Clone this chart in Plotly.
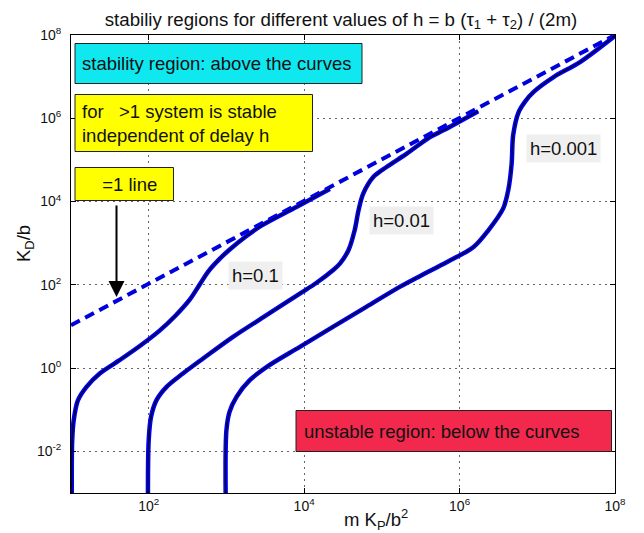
import numpy as np
import plotly.graph_objects as go

# ---- data (log10 values) ----
h01_log_x = [1.01, 1.015, 1.035, 1.09, 1.2, 1.37, 1.625, 1.885, 2.14, 2.35, 2.53, 2.66, 2.77, 2.9, 3.05, 3.25, 3.45, 3.9, 4.33]
h01_log_y = [-3.0, -1.75, -1.25, -0.77, -0.45, -0.13, 0.19, 0.53, 0.9, 1.27, 1.65, 2.02, 2.33, 2.6, 2.86, 3.16, 3.42, 3.87, 4.3]

h001_log_x = [1.99, 2.0, 2.03, 2.1, 2.23, 2.44, 2.7, 3.085, 3.515, 3.945, 4.16, 4.37, 4.46, 4.57, 4.65, 4.7, 4.76, 4.89, 5.06, 5.32, 5.62, 5.79, 6.24]
h001_log_y = [-3.0, -1.73, -1.17, -0.77, -0.45, -0.13, 0.23, 0.75, 1.27, 1.79, 2.05, 2.35, 2.51, 2.83, 3.31, 3.79, 4.19, 4.59, 4.83, 5.15, 5.55, 5.71, 6.17]

h0001_log_x = [2.99, 3.0, 3.04, 3.13, 3.3, 3.52, 3.945, 4.37, 4.8, 5.23, 5.5, 5.84, 6.18, 6.37, 6.56, 6.63, 6.67, 6.69, 6.76, 6.85, 6.95, 7.21, 7.55, 8.0]
h0001_log_y = [-3.0, -1.49, -1.05, -0.69, -0.29, 0.03, 0.51, 0.99, 1.47, 1.95, 2.22, 2.55, 2.91, 3.31, 3.83, 4.31, 4.91, 5.6, 6.15, 6.42, 6.63, 6.99, 7.35, 7.98]

kappa_log_x = [1.0, 8.0]
kappa_log_y = [1.03, 8.0]

x_tickvals = [1e2, 1e4, 1e6, 1e8]
x_ticktext = ["10<sup>2</sup>", "10<sup>4</sup>", "10<sup>6</sup>", "10<sup>8</sup>"]
y_tickvals = [1e-2, 1e0, 1e2, 1e4, 1e6, 1e8]
y_ticktext = ["10<sup>-2</sup>", "10<sup>0</sup>", "10<sup>2</sup>", "10<sup>4</sup>", "10<sup>6</sup>", "10<sup>8</sup>"]

curve_labels = ["h=0.1", "h=0.01", "h=0.001"]

FONT = "Liberation Sans, Arial, Helvetica, sans-serif"

fig = go.Figure()

# dashed kappa = 1 line
fig.add_trace(go.Scatter(
    x=10 ** np.array(kappa_log_x), y=10 ** np.array(kappa_log_y),
    mode="lines", line=dict(color="#0000dd", width=4, dash="10px,6px"),
    showlegend=False, hoverinfo="skip"))

for lx, ly in [(h01_log_x, h01_log_y), (h001_log_x, h001_log_y), (h0001_log_x, h0001_log_y)]:
    xs = 10 ** np.array(lx)
    ys = 10 ** np.array(ly)
    fig.add_trace(go.Scatter(x=xs, y=ys, mode="lines",
                             line=dict(color="#0000ff", width=4.5, shape="spline", smoothing=0.9),
                             showlegend=False, hoverinfo="skip"))
    fig.add_trace(go.Scatter(x=xs, y=ys, mode="lines",
                             line=dict(color="#000000", width=1.2, shape="spline", smoothing=0.9),
                             showlegend=False, hoverinfo="skip"))

# ---- pixel -> paper helpers (plot area: x 71..615, y 35..493) ----
L, R, T, B = 71, 615, 35, 493
def px(x):
    return (x - L) / (R - L)
def py(y):
    return (B - y) / (B - T)

shapes = []
annotations = []

def box(x0, y0, x1, y1, color):
    shapes.append(dict(type="rect", xref="paper", yref="paper",
                       x0=px(x0), x1=px(x1), y0=py(y1), y1=py(y0),
                       fillcolor=color, line=dict(color="#222222", width=1), layer="above"))

def text(x, y, t, size=18.5, xanchor="left", bg=None):
    a = dict(xref="paper", yref="paper", x=px(x), y=py(y), text=t, showarrow=False,
             xanchor=xanchor, yanchor="middle", align="left",
             font=dict(family=FONT, size=size, color="#111111"))
    if bg:
        a.update(bgcolor=bg, borderpad=3)
    annotations.append(a)

nb = "\u00a0"
box(75, 43.5, 362, 83.5, "#10e8f0")
text(80, 63.5, "stability region: above the curves")

box(75, 94.5, 312.5, 151.5, "#ffff00")
text(80, 123, "for" + nb * 3 + "&gt;1 system is stable<br>independent of delay h")

box(75, 167.5, 173.5, 200.5, "#ffff00")
text(124, 184, nb * 2 + "=1 line", xanchor="center")

box(296, 410.5, 611.5, 451.5, "#f2294c")
text(302, 431, "unstable region: below the curves")

# curve labels
text(255, 275, curve_labels[0], xanchor="center", bg="#efefef")
text(401, 220, curve_labels[1], xanchor="center", bg="#efefef")
text(563, 148, curve_labels[2], xanchor="center", bg="#efefef")

# arrow
annotations.append(dict(xref="paper", yref="paper", x=px(116.5), y=py(297),
                        ax=0, ay=-93, axref="pixel", ayref="pixel",
                        showarrow=True, arrowhead=2, arrowsize=1.6, arrowwidth=2,
                        arrowcolor="#000000", text=""))

# axis titles
annotations.append(dict(xref="paper", yref="paper", x=px(376), y=py(519),
                        text="m K<sub>P</sub>/b<sup>2</sup>", showarrow=False,
                        xanchor="center", yanchor="middle",
                        font=dict(family=FONT, size=18.5, color="#111111")))
annotations.append(dict(xref="paper", yref="paper", x=px(25), y=py(244),
                        text="K<sub>D</sub>/b", showarrow=False, textangle=-90,
                        xanchor="center", yanchor="middle",
                        font=dict(family=FONT, size=18.5, color="#111111")))

axis_common = dict(type="log", showline=True, linecolor="#000000", linewidth=1,
                   mirror="ticks", ticks="inside", ticklen=5, tickcolor="#000000",
                   showgrid=True, gridcolor="#666666", gridwidth=1, griddash="2px,4px",
                   zeroline=False, tickfont=dict(family=FONT, size=14, color="#111111"))

fig.update_layout(
    width=644, height=533,
    margin=dict(l=L, r=644 - R, t=T, b=533 - B),
    paper_bgcolor="white", plot_bgcolor="white",
    title=dict(text="stabiliy regions for different values of h = b (τ<sub>1</sub> + τ<sub>2</sub>) / (2m)",
               x=341 / 644, xanchor="center",
               y=1 - 19 / 533, yanchor="middle", yref="container",
               font=dict(family=FONT, size=18.7, color="#111111")),
    xaxis=dict(range=[1, 8], tickvals=x_tickvals, ticktext=x_ticktext, **axis_common),
    yaxis=dict(range=[-3, 8], tickvals=y_tickvals, ticktext=y_ticktext,
               ticklabelstandoff=6, **axis_common),
    shapes=shapes, annotations=annotations,
    showlegend=False,
)

fig.write_html("out.html", config={"displayModeBar": False},
               post_script="document.body.style.margin='0';document.body.style.padding='0';document.body.style.overflow='hidden';")
